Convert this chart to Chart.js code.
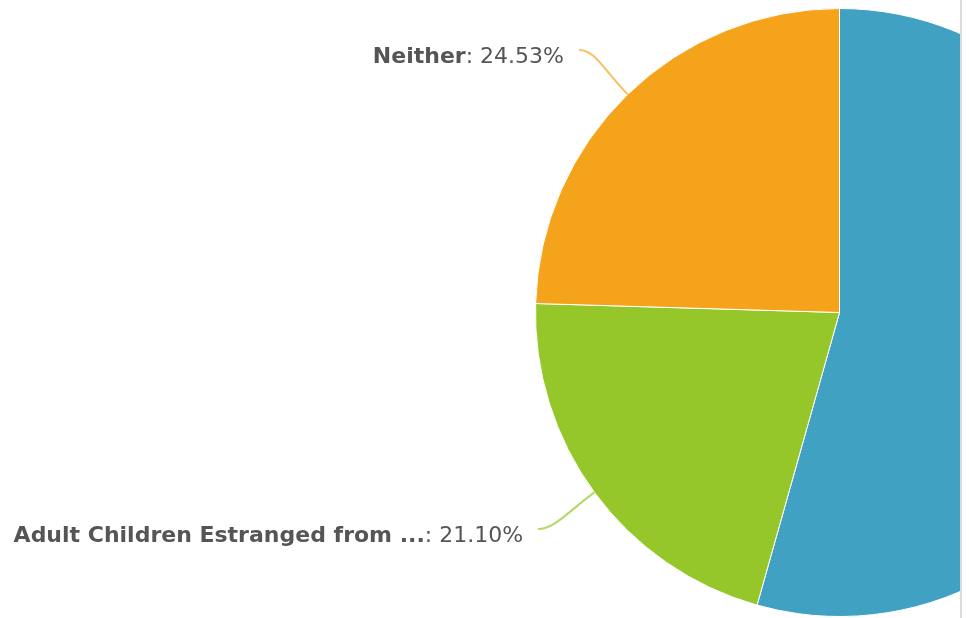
<!DOCTYPE html>
<html>
<head>
<meta charset="utf-8">
<script src="https://cdn.jsdelivr.net/npm/chart.js@4/dist/chart.umd.min.js"></script>
<style>
  html, body { margin: 0; padding: 0; background: #fff; overflow: hidden; }
  #frame { position: relative; width: 960px; height: 618px; overflow: hidden; border-right: 2px solid #dcdcdc; }
  #box { position: absolute; left: 0; top: 0; width: 1679px; height: 618px; }
</style>
</head>
<body>
<div id="frame"><div id="box"><canvas id="grafico"></canvas></div></div>
<script>
const categorias = ['Parents Estranged from ...', 'Adult Children Estranged from ...', 'Neither'];
const porcentajes = [54.37, 21.10, 24.53];
const colores = ['#40a1c2', '#96c72a', '#f5a31b'];

// etiquetas con línea conectora, estilo "nombre: valor%"
const etiquetas = {
  id: 'etiquetas',
  afterDatasetsDraw(chart) {
    const ctx = chart.ctx;
    const meta = chart.getDatasetMeta(0);
    meta.data.forEach((arc, i) => {
      const { x, y, startAngle, endAngle, outerRadius } = arc.getProps(['x', 'y', 'startAngle', 'endAngle', 'outerRadius'], true);
      const a = (startAngle + endAngle) / 2;
      const cos = Math.cos(a), sin = Math.sin(a);
      const ex = x + outerRadius * cos, ey = y + outerRadius * sin;
      const izq = cos < 0;
      const fx = x + (outerRadius + 70) * cos, fy = y + (outerRadius + 62) * sin;
      ctx.save();
      ctx.strokeStyle = colores[i];
      ctx.globalAlpha = 0.7;
      ctx.lineWidth = 2;
      ctx.beginPath();
      ctx.moveTo(ex, ey);
      ctx.bezierCurveTo(x + (outerRadius + 35) * cos, y + (outerRadius + 35) * sin,
                        fx + (izq ? 16 : -16), fy, fx, fy);
      ctx.stroke();
      ctx.globalAlpha = 1;

      const nombre = categorias[i];
      const valor = ': ' + porcentajes[i].toFixed(2) + '%';
      const fb = 'bold 22px "DejaVu Sans"';
      const fn = '22px "DejaVu Sans"';
      ctx.font = fb;
      const wb = ctx.measureText(nombre).width;
      ctx.font = fn;
      const wn = ctx.measureText(valor).width;
      const tx = izq ? fx - 15 - wb - wn : fx + 15;
      const ty = fy + 7.5;
      ctx.textBaseline = 'middle';
      ctx.textAlign = 'left';
      ctx.fillStyle = '#555555';
      ctx.font = fb;
      ctx.fillText(nombre, tx, ty);
      ctx.font = fn;
      ctx.fillText(valor, tx + wb, ty);
      ctx.restore();
    });
  }
};

new Chart(document.getElementById('grafico'), {
  type: 'pie',
  data: {
    labels: categorias,
    datasets: [{
      data: porcentajes,
      backgroundColor: colores,
      borderColor: '#ffffff',
      borderWidth: 1
    }]
  },
  options: {
    responsive: true,
    maintainAspectRatio: false,
    animation: false,
    layout: { padding: { top: 8, bottom: 1 } },
    plugins: {
      legend: { display: false },
      tooltip: { enabled: false }
    }
  },
  plugins: [etiquetas]
});
</script>
</body>
</html>
